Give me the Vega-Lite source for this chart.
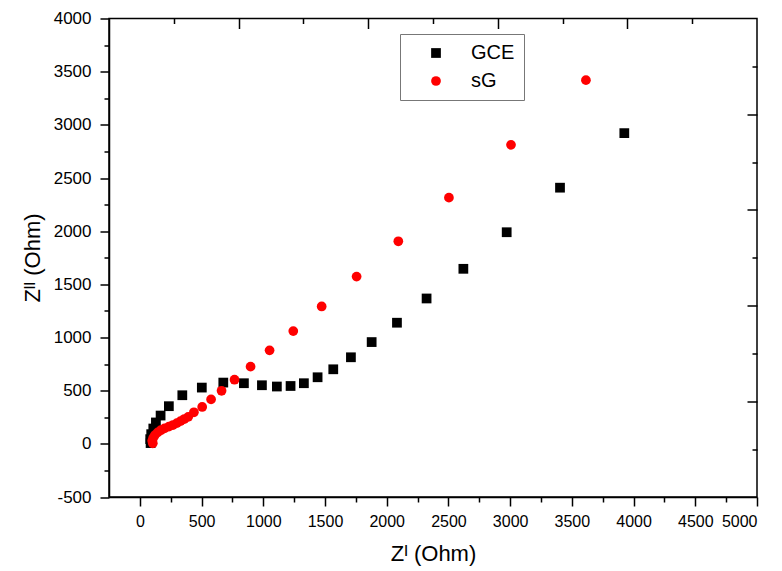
{
  "$schema": "https://vega.github.io/schema/vega-lite/v6.json",
  "width": 648,
  "height": 478.5,
  "autosize": "none",
  "padding": {"left": 109, "top": 18.5, "right": 25, "bottom": 74},
  "background": "white",
  "config": {
    "font": "Liberation Sans",
    "view": {"stroke": "black", "strokeWidth": 1.5},
    "axis": {
      "grid": false,
      "tickColor": "black",
      "tickWidth": 1.5,
      "domainColor": "black",
      "domainWidth": 1.5,
      "labelColor": "black",
      "titleColor": "black",
      "labelFont": "Liberation Sans",
      "titleFont": "Liberation Sans",
      "labelFontSize": 17,
      "titleFontSize": 22,
      "titleFontWeight": "normal"
    }
  },
  "data": {
    "values": [
      {"series": "GCE", "zr": 87, "zi": 7},
      {"series": "GCE", "zr": 84, "zi": 44},
      {"series": "GCE", "zr": 92, "zi": 91},
      {"series": "GCE", "zr": 109, "zi": 144},
      {"series": "GCE", "zr": 130, "zi": 201},
      {"series": "GCE", "zr": 168, "zi": 266},
      {"series": "GCE", "zr": 235, "zi": 354},
      {"series": "GCE", "zr": 344, "zi": 457},
      {"series": "GCE", "zr": 502, "zi": 529},
      {"series": "GCE", "zr": 676, "zi": 576},
      {"series": "GCE", "zr": 843, "zi": 570},
      {"series": "GCE", "zr": 989, "zi": 551},
      {"series": "GCE", "zr": 1110, "zi": 539},
      {"series": "GCE", "zr": 1221, "zi": 544},
      {"series": "GCE", "zr": 1329, "zi": 570},
      {"series": "GCE", "zr": 1440, "zi": 626},
      {"series": "GCE", "zr": 1567, "zi": 701},
      {"series": "GCE", "zr": 1710, "zi": 814},
      {"series": "GCE", "zr": 1878, "zi": 957},
      {"series": "GCE", "zr": 2083, "zi": 1139},
      {"series": "GCE", "zr": 2323, "zi": 1367},
      {"series": "GCE", "zr": 2621, "zi": 1646},
      {"series": "GCE", "zr": 2972, "zi": 1990},
      {"series": "GCE", "zr": 3404, "zi": 2409},
      {"series": "GCE", "zr": 3925, "zi": 2922},
      {"series": "sG", "zr": 105, "zi": 5},
      {"series": "sG", "zr": 100, "zi": 28},
      {"series": "sG", "zr": 108, "zi": 55},
      {"series": "sG", "zr": 122, "zi": 82},
      {"series": "sG", "zr": 145, "zi": 108},
      {"series": "sG", "zr": 170, "zi": 128},
      {"series": "sG", "zr": 200, "zi": 145},
      {"series": "sG", "zr": 235, "zi": 162},
      {"series": "sG", "zr": 268, "zi": 177},
      {"series": "sG", "zr": 300, "zi": 195},
      {"series": "sG", "zr": 330, "zi": 214},
      {"series": "sG", "zr": 360, "zi": 233},
      {"series": "sG", "zr": 392, "zi": 254},
      {"series": "sG", "zr": 438, "zi": 297},
      {"series": "sG", "zr": 505, "zi": 347},
      {"series": "sG", "zr": 577, "zi": 418},
      {"series": "sG", "zr": 662, "zi": 499},
      {"series": "sG", "zr": 767, "zi": 603},
      {"series": "sG", "zr": 897, "zi": 726},
      {"series": "sG", "zr": 1051, "zi": 879},
      {"series": "sG", "zr": 1243, "zi": 1060},
      {"series": "sG", "zr": 1473, "zi": 1292},
      {"series": "sG", "zr": 1756, "zi": 1573},
      {"series": "sG", "zr": 2094, "zi": 1905},
      {"series": "sG", "zr": 2504, "zi": 2315},
      {"series": "sG", "zr": 3007, "zi": 2812},
      {"series": "sG", "zr": 3614, "zi": 3420}
    ]
  },
  "layer": [
    {
      "mark": {"type": "point", "filled": true, "opacity": 1, "size": 95, "strokeWidth": 0},
      "encoding": {
        "x": {
          "field": "zr", "type": "quantitative",
          "scale": {"domain": [-250, 5000], "nice": false, "zero": false},
          "axis": {
            "orient": "bottom",
            "values": [0, 500, 1000, 1500, 2000, 2500, 3000, 3500, 4000, 4500, 5000],
            "labelExpr": "'' + datum.value",
            "labelFontSize": 16,
            "tickSize": 9, "labelPadding": 7,
            "title": "Zᴵ (Ohm)",
            "titleX": 324, "titleY": 56, "titleBaseline": "middle", "titleAlign": "center"
          }
        },
        "y": {
          "field": "zi", "type": "quantitative",
          "scale": {"domain": [-500, 4000], "nice": false, "zero": false},
          "axis": {
            "orient": "left",
            "values": [-500, 0, 500, 1000, 1500, 2000, 2500, 3000, 3500, 4000],
            "labelExpr": "'' + datum.value",
            "tickSize": 9, "labelPadding": 9,
            "title": "Zᴵᴵ (Ohm)",
            "titleX": -77, "titleY": 239, "titleBaseline": "middle", "titleAlign": "center", "titleAngle": -90
          }
        },
        "color": {
          "field": "series", "type": "nominal",
          "scale": {"domain": ["GCE", "sG"], "range": ["#000000", "#ff0000"]},
          "legend": {
            "title": null, "orient": "none", "legendX": 291, "legendY": 15.5,
            "padding": 9, "strokeColor": "#777777", "fillColor": "white",
            "labelFontSize": 20, "labelFont": "Liberation Sans", "labelColor": "black",
            "symbolSize": 95, "symbolStrokeWidth": 0, "rowPadding": 8,
            "symbolOffset": 17, "labelOffset": 25
          }
        },
        "shape": {
          "field": "series", "type": "nominal",
          "scale": {"domain": ["GCE", "sG"], "range": ["square", "circle"]},
          "legend": {
            "title": null, "orient": "none", "legendX": 291, "legendY": 15.5,
            "padding": 9, "strokeColor": "#777777", "fillColor": "white",
            "labelFontSize": 20, "labelFont": "Liberation Sans", "labelColor": "black",
            "symbolSize": 95, "symbolStrokeWidth": 0, "rowPadding": 8,
            "symbolOffset": 17, "labelOffset": 25
          }
        }
      }
    },
    {
      "mark": {"type": "point", "opacity": 0},
      "encoding": {
        "x": {"field": "zr", "type": "quantitative",
          "axis": {"orient": "bottom", "values": [250, 750, 1250, 1750, 2250, 2750, 3250, 3750, 4250, 4750],
            "tickSize": 5, "labels": false, "domain": false, "title": null}},
        "y": {"field": "zi", "type": "quantitative",
          "axis": {"orient": "left", "values": [-250, 250, 750, 1250, 1750, 2250, 2750, 3250, 3750],
            "tickSize": 5, "labels": false, "domain": false, "title": null}}
      }
    },
    {
      "mark": {"type": "point", "opacity": 0},
      "encoding": {
        "x": {"field": "zr", "type": "quantitative",
          "axis": {"orient": "bottom", "offset": -478.5, "values": [800, 1850, 2900, 3950],
            "tickSize": 10, "labels": false, "domain": false, "title": null}},
        "y": {"field": "zi", "type": "quantitative",
          "axis": {"orient": "left", "offset": -648, "values": [400, 1300, 2200, 3100],
            "tickSize": 10, "labels": false, "domain": false, "title": null}}
      }
    },
    {
      "mark": {"type": "point", "opacity": 0},
      "encoding": {
        "x": {"field": "zr", "type": "quantitative",
          "axis": {"orient": "bottom", "offset": -478.5, "values": [275, 1325, 2375, 3425, 4475],
            "tickSize": 5, "labels": false, "domain": false, "title": null}},
        "y": {"field": "zi", "type": "quantitative",
          "axis": {"orient": "left", "offset": -648, "values": [-50, 850, 1750, 2650, 3550],
            "tickSize": 5, "labels": false, "domain": false, "title": null}}
      }
    }
  ],
  "resolve": {"axis": {"x": "independent", "y": "independent"}}
}
